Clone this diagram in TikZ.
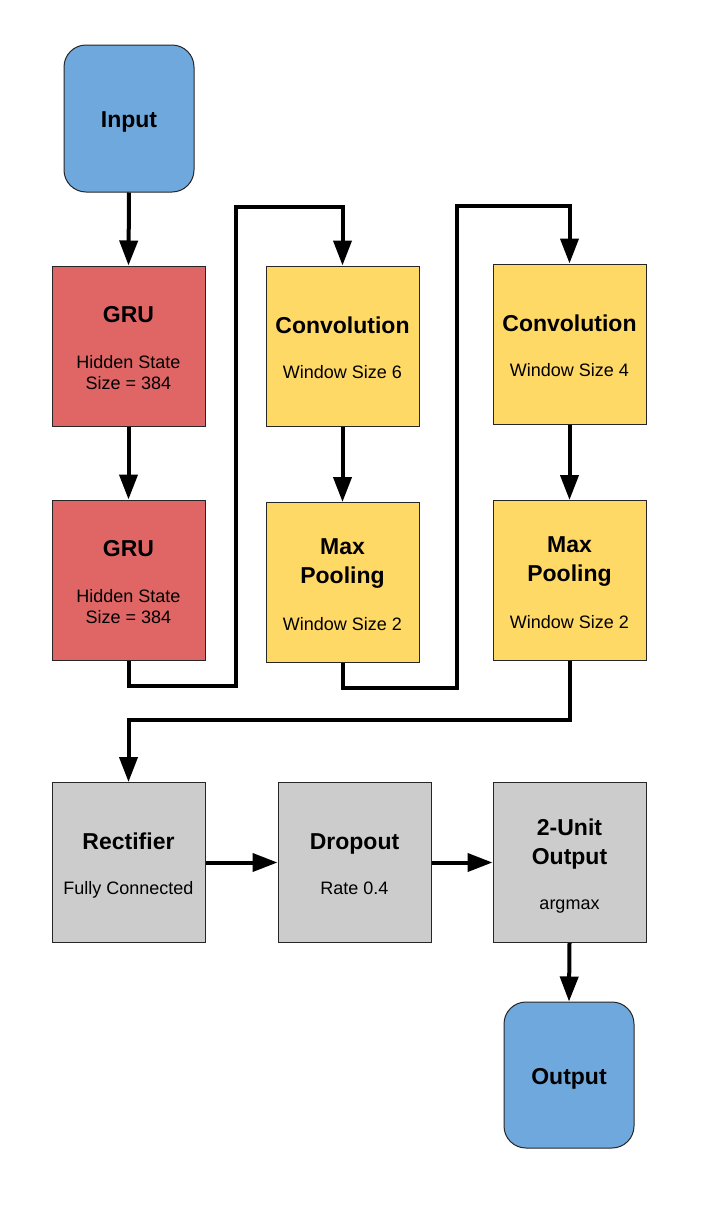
\documentclass[tikz,border=0pt]{standalone}
\usepackage{fontspec}
\setmainfont{Liberation Sans}
\usetikzlibrary{arrows.meta}
\definecolor{cblue}{HTML}{6FA8DC}
\definecolor{cred}{HTML}{E06666}
\definecolor{cyel}{HTML}{FFD966}
\definecolor{cgray}{HTML}{CCCCCC}
\begin{document}
\begin{tikzpicture}[x=1pt,y=-1pt,
  blk/.style={draw=black!85, line width=1pt, minimum width=153pt, minimum height=160pt, inner sep=0pt},
  term/.style={draw=black!85, line width=1pt, minimum width=130pt, minimum height=147pt, inner sep=0pt, rounded corners=22pt, fill=cblue},
  ttl/.style={font=\fontsize{23}{28}\selectfont\bfseries, anchor=base, inner sep=0pt},
  sbt/.style={font=\fontsize{18}{22}\selectfont, anchor=base, inner sep=0pt},
  conn/.style={line width=4pt, -{Triangle[length=25pt,width=18pt]}}]
\useasboundingbox (0,0) rectangle (716,1210);

% terminals
\node[term] (inp) at (129,118.5) {};
\node[ttl] (inpT) at ([yshift=-9pt]inp.center) {Input};
\node[term, minimum height=146pt] (out) at (569,1075) {};
\node[ttl] (outT) at ([yshift=-9pt]out.center) {Output};

% GRU
\node[blk, fill=cred] (g1) at (128.5,346) {};
\node[ttl] (g1T) at ([yshift=24pt]g1.center) {GRU};
\node[sbt] (g1S) at ([yshift=-22pt]g1.center) {Hidden State};
\node[sbt] (g1U) at ([yshift=-43pt]g1.center) {Size = 384};
\node[blk, fill=cred] (g2) at (128.5,580) {};
\node[ttl] (g2T) at ([yshift=24pt]g2.center) {GRU};
\node[sbt] (g2S) at ([yshift=-22pt]g2.center) {Hidden State};
\node[sbt] (g2U) at ([yshift=-43pt]g2.center) {Size = 384};

% Conv / Pool column 1
\node[blk, fill=cyel] (c1) at (342.5,346) {};
\node[ttl] (c1T) at ([yshift=13pt]c1.center) {Convolution};
\node[sbt] (c1S) at ([yshift=-32pt]c1.center) {Window Size 6};
\node[blk, fill=cyel] (m1) at (342.5,582.5) {};
\node[ttl] (m1T) at ([yshift=28.5pt]m1.center) {Max};
\node[ttl] (m1U) at ([yshift=-0.5pt]m1.center) {Pooling};
\node[sbt] (m1S) at ([yshift=-47.5pt]m1.center) {Window Size 2};

% Conv / Pool column 2
\node[blk, fill=cyel] (c2) at (569.5,344) {};
\node[ttl] (c2T) at ([yshift=13pt]c2.center) {Convolution};
\node[sbt] (c2S) at ([yshift=-32pt]c2.center) {Window Size 4};
\node[blk, fill=cyel] (m2) at (569.5,580.5) {};
\node[ttl] (m2T) at ([yshift=28.5pt]m2.center) {Max};
\node[ttl] (m2U) at ([yshift=-0.5pt]m2.center) {Pooling};
\node[sbt] (m2S) at ([yshift=-47.5pt]m2.center) {Window Size 2};

% bottom row
\node[blk, fill=cgray] (r) at (128.5,862.5) {};
\node[ttl] (rT) at ([yshift=13.5pt]r.center) {Rectifier};
\node[sbt] (rS) at ([yshift=-32pt]r.center) {Fully Connected};
\node[blk, fill=cgray] (d) at (354.5,862.5) {};
\node[ttl] (dT) at ([yshift=13.5pt]d.center) {Dropout};
\node[sbt] (dS) at ([yshift=-32pt]d.center) {Rate 0.4};
\node[blk, fill=cgray] (u) at (569.5,862.5) {};
\node[ttl] (uT) at ([yshift=27.5pt]u.center) {2-Unit};
\node[ttl] (uU) at ([yshift=-1.5pt]u.center) {Output};
\node[sbt] (uS) at ([yshift=-47pt]u.center) {argmax};

% junctions
\coordinate (j1) at (236,686);
\coordinate (j2) at (236,207);
\coordinate (j3) at (457,688);
\coordinate (j4) at (457,206);
\coordinate (j5) at (569.5,720);

% connectors
\draw[conn] (inp.south) -- (g1.north);
\draw[conn] (g1.south) -- (g2.north);
\draw[conn] (g2.south) |- (j1) -- (j2) -| (c1.north);
\draw[conn] (c1.south) -- (m1.north);
\draw[conn] (m1.south) |- (j3) -- (j4) -| (c2.north);
\draw[conn] (c2.south) -- (m2.north);
\draw[conn] (m2.south) -- (j5) -| (r.north);
\draw[conn] (r.east) -- (d.west);
\draw[conn] (d.east) -- (u.west);
\draw[conn] (u.south) -- (out.north);
\end{tikzpicture}
\end{document}
